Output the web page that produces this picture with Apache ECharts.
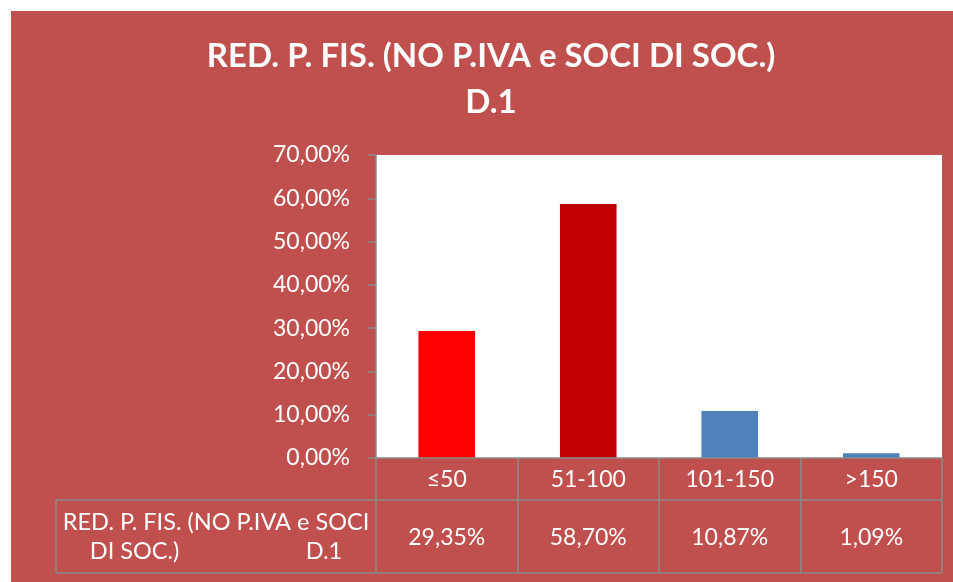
<!DOCTYPE html>
<html>
<head>
<meta charset="utf-8">
<script src="https://cdn.jsdelivr.net/npm/echarts@6/dist/echarts.min.js"></script>
<style>
  html, body { margin: 0; padding: 0; background: #fff; }
  #chart { width: 953px; height: 582px; }
</style>
</head>
<body>
<div id="chart"></div>
<script>
const titleLines = ['RED. P. FIS. (NO P.IVA e SOCI DI SOC.)', 'D.1'];
const seriesLabel = 'RED. P. FIS. (NO P.IVA e SOCI\nDI SOC.)                     D.1';
const categories = ['≤50', '51-100', '101-150', '>150'];
const shares = [0.2935, 0.5870, 0.1087, 0.0109];
const barColors = ['#FF0000', '#C00000', '#4F81BD', '#4F81BD'];

const FONT = 'Lato, "Open Sans", sans-serif';
const GRID_GRAY = '#8A8A8A';

function formatPct(v) {
    return (v * 100).toFixed(2).replace('.', ',') + '%';
}

const chart = echarts.init(document.getElementById('chart'), null, { renderer: 'canvas' });

chart.setOption({
    backgroundColor: '#fff',
    animation: false,
    textStyle: { fontFamily: FONT, color: '#fff' },
    grid: {
        left: 376,
        right: 11,
        top: 155,
        bottom: 124,
        show: true,
        backgroundColor: '#fff',
        borderWidth: 0,
    },
    xAxis: [
        {
            type: 'category',
            data: categories,
            axisLine: { show: true, lineStyle: { color: GRID_GRAY, width: 1.5 } },
            axisTick: { show: true, interval: 0, length: 115, lineStyle: { color: GRID_GRAY, width: 1.5 } },
            axisLabel: {
                interval: 0,
                margin: 22,
                verticalAlign: 'middle',
                color: '#fff',
                fontFamily: FONT,
                fontSize: 23,
            },
            z: 5,
        },
        {
            type: 'category',
            position: 'bottom',
            data: shares.map(formatPct),
            axisLine: { show: false },
            axisTick: { show: false },
            axisLabel: {
                interval: 0,
                margin: 80,
                verticalAlign: 'middle',
                color: '#fff',
                fontFamily: FONT,
                fontSize: 23,
            },
        },
    ],
    yAxis: {
        type: 'value',
        min: 0,
        max: 0.7,
        interval: 0.1,
        axisLine: { show: true, lineStyle: { color: GRID_GRAY, width: 1.5 } },
        axisTick: { show: true, length: 8, lineStyle: { color: GRID_GRAY, width: 1.5 } },
        splitLine: { show: false },
        axisLabel: {
            margin: 26,
            color: '#fff',
            fontFamily: FONT,
            fontSize: 23,
            formatter: v => formatPct(v),
        },
    },
    series: [
        {
            type: 'bar',
            xAxisIndex: 0,
            barWidth: '40%',
            data: shares.map((v, i) => ({ value: v, itemStyle: { color: barColors[i] } })),
        },
    ],
    graphic: [
        // chart area background (white margin on top and left as in the source)
        {
            type: 'rect',
            z: -10,
            silent: true,
            shape: { x: 11, y: 11, width: 942, height: 571 },
            style: { fill: '#C0504D' },
        },
        {
            type: 'text',
            x: 491,
            y: 79,
            style: {
                text: titleLines.join('\n'),
                fill: '#fff',
                font: 'bold 33px ' + FONT,
                lineHeight: 46,
                align: 'center',
                verticalAlign: 'middle',
            },
        },
        // data table lines
        {
            type: 'line',
            shape: { x1: 56, y1: 500, x2: 942, y2: 500 },
            style: { stroke: GRID_GRAY, lineWidth: 1.5 },
        },
        {
            type: 'line',
            shape: { x1: 56, y1: 573, x2: 942, y2: 573 },
            style: { stroke: GRID_GRAY, lineWidth: 1.5 },
        },
        {
            type: 'line',
            shape: { x1: 56, y1: 500, x2: 56, y2: 573 },
            style: { stroke: GRID_GRAY, lineWidth: 1.5 },
        },
        {
            type: 'text',
            x: 216,
            y: 537,
            style: {
                text: seriesLabel,
                fill: '#fff',
                font: '23.5px ' + FONT,
                lineHeight: 29,
                align: 'center',
                verticalAlign: 'middle',
            },
        },
    ],
});

window.addEventListener('resize', () => chart.resize());
</script>
</body>
</html>
